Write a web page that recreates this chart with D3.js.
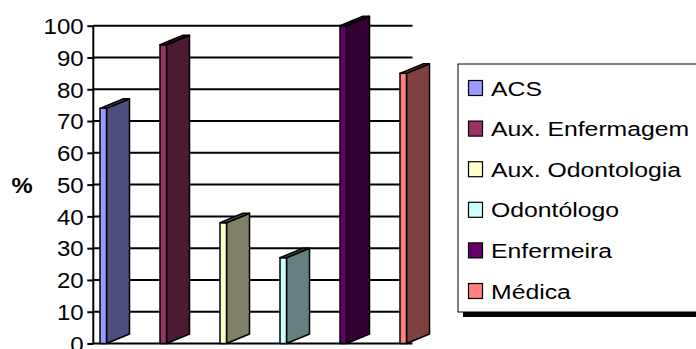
<!DOCTYPE html>
<html>
<head>
<meta charset="utf-8">
<script src="https://cdn.jsdelivr.net/npm/d3@7"></script>
<style>
  html, body { margin: 0; padding: 0; background: #fff; }
  svg { display: block; font-family: "Liberation Sans", Arial, sans-serif; }
</style>
</head>
<body>
<svg id="chart" width="696" height="349"></svg>
<script>
// Professional categories and their percentages
const categories = ["ACS", "Aux. Enfermagem", "Aux. Odontologia", "Odontólogo", "Enfermeira", "Médica"];
const values = [74, 94, 38, 27, 100, 85];
const frontColors = ["#9999FF", "#993366", "#FFFFCC", "#CCFFFF", "#660066", "#FF8080"];
const sideColors = ["#4D4D80", "#4D1A33", "#808066", "#668080", "#330033", "#804040"];
const yTicks = [0, 10, 20, 30, 40, 50, 60, 70, 80, 90, 100];

const svg = d3.select("#chart");

const plot = { left: 93.3, right: 412.5, top: 25.7, bottom: 343.5 };
const y = d3.scaleLinear().domain([0, 100]).range([plot.bottom, plot.top]);
const x = d3.scalePoint().domain(categories).range([70, 430]).padding(0.5);

// Horizontal gridlines
svg.append("g")
  .selectAll("line")
  .data(yTicks)
  .join("line")
  .attr("x1", plot.left).attr("x2", plot.right)
  .attr("y1", d => y(d)).attr("y2", d => y(d))
  .attr("stroke", "#000").attr("stroke-width", 2);

// Value axis
const axis = svg.append("g")
  .attr("transform", `translate(${plot.left},0)`)
  .call(d3.axisLeft(y).tickValues(yTicks).tickSize(6).tickPadding(0).tickFormat(d3.format("d")));
axis.select(".domain").attr("stroke", "#000").attr("stroke-width", 2).attr("d", `M0,${plot.top}V${plot.bottom}`);
axis.selectAll(".tick line").attr("stroke", "#000").attr("stroke-width", 2);
axis.selectAll(".tick text")
  .attr("font-family", "Liberation Sans, Arial, sans-serif")
  .attr("font-size", 21.5)
  .attr("fill", "#000")
  .attr("x", -8.6)
  .attr("dy", "0.36em")
  .attr("transform", "scale(1.12,1)");

// Axis title
svg.append("text")
  .attr("x", 0).attr("y", 0)
  .attr("transform", "translate(11.5,193) scale(1.08,1)")
  .attr("font-size", 22).attr("font-weight", "bold")
  .text("%");

// 3D columns: narrow front face, deep side face, thin top
const fw = 6.5, dx = 23, dy = 9.5;
const bars = svg.append("g").selectAll("g")
  .data(categories.map((c, i) => ({ c, v: values[i], front: frontColors[i], side: sideColors[i] })))
  .join("g");

bars.append("path")
  .attr("d", d => {
    const x0 = x(d.c) + fw, yt = y(d.v), yb = y(0);
    return `M${x0},${yt}L${x0 + dx},${yt - dy}L${x0 + dx},${yb - dy}L${x0},${yb}Z`;
  })
  .attr("fill", d => d.side)
  .attr("stroke", "#000").attr("stroke-width", 1.5).attr("stroke-linejoin", "round");

bars.append("path")
  .attr("d", d => {
    const x0 = x(d.c), yt = y(d.v), yb = y(0);
    return `M${x0},${yt}L${x0 + fw},${yt}L${x0 + fw},${yb}L${x0},${yb}Z`;
  })
  .attr("fill", d => d.front)
  .attr("stroke", "#000").attr("stroke-width", 1.5).attr("stroke-linejoin", "round");

bars.append("path")
  .attr("d", d => {
    const x0 = x(d.c), yt = y(d.v);
    return `M${x0},${yt}L${x0 + fw},${yt}L${x0 + fw + dx},${yt - dy}L${x0 + dx},${yt - dy}Z`;
  })
  .attr("fill", d => d3.color(d.side).darker(1))
  .attr("stroke", "#000").attr("stroke-width", 1.5).attr("stroke-linejoin", "round");

// Legend with drop shadow
const legend = svg.append("g");
legend.append("rect")
  .attr("x", 463).attr("y", 69).attr("width", 260).attr("height", 248)
  .attr("fill", "#000");
legend.append("rect")
  .attr("x", 458).attr("y", 64).attr("width", 260).attr("height", 248)
  .attr("fill", "#fff").attr("stroke", "#000").attr("stroke-width", 1);

const items = legend.selectAll("g.item")
  .data(categories.map((c, i) => ({ c, color: frontColors[i] })))
  .join("g")
  .attr("class", "item")
  .attr("transform", (d, i) => `translate(0,${88 + i * 40.6})`);

items.append("rect")
  .attr("x", 468.5).attr("y", -7.5).attr("width", 14).attr("height", 15)
  .attr("fill", d => d.color)
  .attr("stroke", "#000").attr("stroke-width", 1.2);

items.append("text")
  .attr("transform", "translate(491,7.6) scale(1.18,1)")
  .attr("font-size", 21)
  .attr("fill", "#000")
  .text(d => d.c);
</script>
</body>
</html>
